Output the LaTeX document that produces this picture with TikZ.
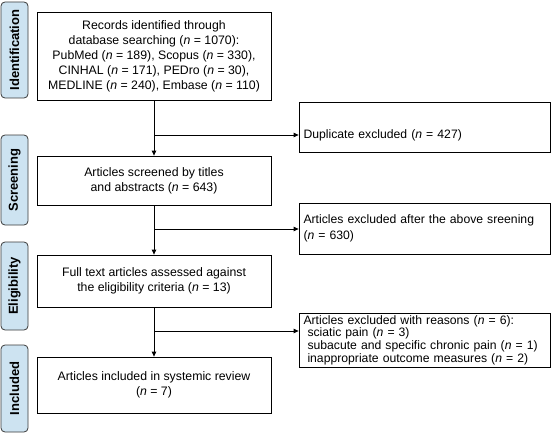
\documentclass[tikz,border=0pt]{standalone}
\usepackage{fontspec}
\setmainfont{Liberation Sans}
\usetikzlibrary{arrows.meta}
\definecolor{stagefill}{HTML}{CDE3F1}
\definecolor{stageline}{HTML}{3A3A3A}
\begin{document}
\begin{tikzpicture}[x=1pt,y=-1pt,
  mainbox/.style={draw, line width=0.8pt, inner sep=0pt, align=center,
    minimum width=234pt, font=\fontsize{12.3}{15}\selectfont},
  sidebox/.style={draw, line width=0.8pt, inner xsep=4.5pt, inner ysep=0pt,
    text width=242pt, align=left, font=\fontsize{12.2}{15}\selectfont},
  stage/.style={draw=stageline, fill=stagefill, line width=0.8pt, rounded corners=4pt,
    rotate=90, inner sep=0pt, minimum height=27pt, font=\fontsize{13}{14}\selectfont\bfseries},
  arr/.style={line width=0.8pt, -{Triangle[length=5pt,width=4.5pt]}},
  ln/.style={line width=0.8pt}]
\useasboundingbox (0,0) rectangle (551,433);

% stage labels
\node[stage, minimum width=96pt] (sid) at (14.5,50) {Identification};
\node[stage, minimum width=90pt] (ssc) at (14.5,180) {Screening};
\node[stage, minimum width=88pt] (sel) at (14.5,286) {Eligibility};
\node[stage, minimum width=87pt] (sin) at (14.5,388.5) {Included};

% main boxes
\node[mainbox, minimum height=88pt] (rec) at (154,56) {Records identified through\\database searching (\textit{n} = 1070):\\PubMed (\textit{n} = 189), Scopus (\textit{n} = 330),\\CINHAL (\textit{n} = 171), PEDro (\textit{n} = 30),\\MEDLINE (\textit{n} = 240), Embase (\textit{n} = 110)};
\node[mainbox, minimum height=49pt] (scr) at (154,180.5) {Articles screened by titles\\and abstracts (\textit{n} = 643)};
\node[mainbox, minimum height=52pt] (full) at (154,281) {Full text articles assessed against\\the eligibility criteria (\textit{n} = 13)};
\node[mainbox, minimum height=56pt] (inc) at (154,385) {Articles included in systemic review\\(\textit{n} = 7)};

% side boxes
\node[sidebox, minimum height=50pt] (dup) at (424.5,127) {\raisebox{-8pt}[\height][\depth]{Duplicate excluded (\textit{n} = 427)}};
\node[sidebox, minimum height=51pt, font=\fontsize{12.2}{16}\selectfont] (ex1) at (424.5,228.5) {Articles excluded after the above sreening\\(\textit{n} = 630)};
\node[sidebox, minimum height=54pt, font=\fontsize{12.2}{12.7}\selectfont] (ex2) at (424.5,340) {Articles excluded with reasons (\textit{n} = 6):\\\hspace*{4pt}sciatic pain (\textit{n} = 3)\\\hspace*{4pt}subacute and specific chronic pain (\textit{n} = 1)\\\hspace*{4pt}inappropriate outcome measures (\textit{n} = 2)};

% connectors
\coordinate (b1) at (154,135);
\coordinate (b2) at (154,229);
\coordinate (b3) at (154,331);
\draw[arr] (rec.south) -- (scr.north);
\draw[arr] (scr.south) -- (full.north);
\draw[arr] (full.south) -- (inc.north);
\draw[arr] (b1) -- (b1 -| dup.west);
\draw[arr] (b2) -- (b2 -| ex1.west);
\draw[arr] (b3) -- (b3 -| ex2.west);
\end{tikzpicture}
\end{document}
